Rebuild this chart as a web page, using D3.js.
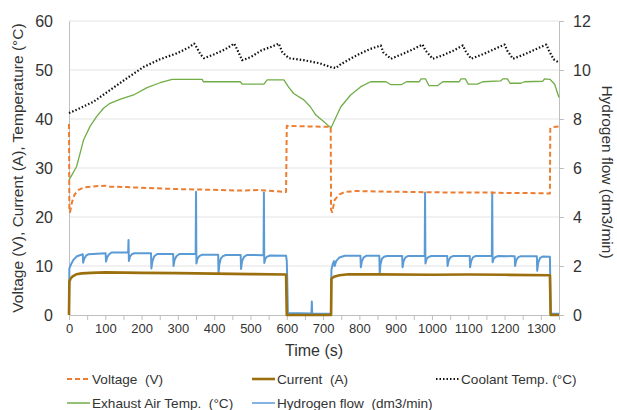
<!DOCTYPE html>
<html>
<head>
<meta charset="utf-8">
<script src="https://cdn.jsdelivr.net/npm/d3@7"></script>
<style>
body{margin:0;background:#fff;}
text{font-family:"Liberation Sans",Arial,sans-serif;fill:#333;}
</style>
</head>
<body>
<div id="chart"></div>
<script>

// tick labels
let timeTicks = [0,100,200,300,400,500,600,700,800,900,1000,1100,1200,1300];
let leftTicks = [0,10,20,30,40,50,60];
let rightTicks = [0,2,4,6,8,10,12];

// series, [time (s), value]
let voltage = [[0,39],[1,21.5],[3,21],[8,23],[15,24.5],[25,25.5],[40,26],[60,26.2],[100,26.4],[110,26.2],
  [160,26.1],[220,25.9],[300,25.7],[360,25.6],[420,25.5],[470,25.4],[520,25.5],[560,25.3],[598,25.1],
  [600,38.6],[650,38.5],[721,38.4],[722,21.5],[725,21],[732,23.5],[745,24.6],[760,25.1],[790,25.3],
  [850,25.2],[950,25.1],[1050,25.0],[1150,25.0],[1200,24.9],[1260,24.9],[1325,24.8],[1326,38.0],
  [1330,38.3],[1350,38.5]];

let current = [[0,0],[1,6.8],[4,7.4],[10,7.9],[20,8.3],[35,8.5],[60,8.6],[100,8.7],[200,8.6],[300,8.55],
  [400,8.45],[500,8.35],[598,8.25],[600,0],[722,0],[723,7.4],[730,7.8],[745,8.1],[770,8.3],[850,8.3],
  [1000,8.2],[1100,8.25],[1200,8.2],[1325,8.1],[1327,0],[1350,0]];

let coolant = [[0,41.2],[30,42.2],[67,43.5],[113,45.9],[159,48.3],[205,50.6],[251,52.2],[297,53.4],
  [330,54.6],[345,55.4],[352,54.6],[362,53.2],[372,52.4],[400,53.2],[430,54.2],[455,55.4],[462,54.4],
  [477,52.0],[500,52.6],[530,54.0],[560,54.8],[578,55.4],[588,53.6],[606,52.4],[647,52.0],[689,51.4],
  [721,50.6],[735,50.4],[749,51.2],[795,53.1],[830,54.3],[859,55.0],[866,53.6],[887,52.3],[920,53.3],
  [950,54.3],[974,55.2],[982,54.0],[1002,52.3],[1030,53.0],[1060,54.0],[1085,55.0],[1093,53.8],
  [1108,52.3],[1140,53.2],[1170,54.2],[1200,55.2],[1207,54.0],[1223,52.3],[1255,53.2],[1285,54.2],
  [1315,55.2],[1322,54.0],[1335,52.2],[1350,51.5]];

let exhaust = [[0,27.5],[5,28.2],[21,30.3],[40,35.7],[58,38.5],[76,40.5],[95,42.2],[113,43.2],[140,44.0],
  [178,44.9],[215,46.4],[251,47.4],[284,48.1],[367,48.1],[370,47.6],[472,47.6],[477,47.1],[537,47.1],
  [546,48.0],[592,48.0],[605,46.5],[619,45.2],[647,43.9],[665,42.5],[680,40.8],[700,39.6],[715,38.6],
  [722,38.2],[730,39.5],[749,42.5],[776,44.9],[804,46.6],[831,47.6],[873,47.6],[887,47.0],[915,47.0],
  [930,47.6],[965,47.6],[970,48.2],[982,48.2],[992,46.8],[1015,46.8],[1030,47.6],[1075,47.6],[1080,48.2],
  [1092,48.2],[1100,47.1],[1125,47.1],[1140,47.6],[1190,47.8],[1195,48.2],[1208,48.2],[1215,47.3],
  [1245,47.3],[1255,47.6],[1305,47.7],[1310,48.2],[1325,48.1],[1338,47.1],[1350,44.4]];

let hydrogen = [[0,0],[1,1.9],[5,2.05],[12,2.25],[22,2.4],[38,2.48],[39,2.13],[42,2.3],[47,2.42],[54,2.48],
  [101,2.52],[102,2.18],[105,2.35],[110,2.47],[117,2.55],
  [163,2.55],[164,3.06],[165,2.2],[168,2.38],[173,2.48],[180,2.52],
  [226,2.52],[227,1.9],[230,2.2],[235,2.4],[243,2.49],
  [287,2.49],[288,2.0],[291,2.25],[296,2.4],[304,2.49],
  [349,2.49],[350,5.03],[351,2.1],[354,2.3],[359,2.4],[367,2.46],
  [411,2.46],[412,1.67],[414,2.05],[418,2.3],[424,2.4],[432,2.45],
  [473,2.45],[474,1.88],[477,2.2],[482,2.37],[490,2.45],
  [536,2.44],[537,5.0],[538,2.12],[541,2.3],[546,2.38],[554,2.43],
  [598,2.42],[600,2.2],[601,1.6],[603,0.08],[668,0.06],[669,0.55],[670,0.06],[722,0.05],
  [723,1.85],[727,2.1],[730,2.2],[732,2.0],[736,2.2],[745,2.35],[760,2.42],
  [803,2.42],[804,1.95],[807,2.2],[812,2.35],[820,2.42],
  [855,2.42],[856,1.67],[858,2.05],[862,2.3],[868,2.38],[876,2.41],
  [918,2.41],[919,1.95],[922,2.2],[927,2.35],[935,2.41],
  [980,2.41],[981,5.0],[982,2.1],[985,2.28],[990,2.36],[998,2.41],
  [1042,2.41],[1043,2.0],[1046,2.22],[1051,2.36],[1059,2.41],
  [1104,2.41],[1105,1.95],[1108,2.2],[1113,2.35],[1121,2.41],
  [1165,2.41],[1166,5.0],[1167,2.15],[1170,2.3],[1175,2.37],[1183,2.41],
  [1228,2.4],[1229,2.0],[1232,2.22],[1237,2.35],[1245,2.4],
  [1289,2.4],[1290,1.81],[1293,2.15],[1298,2.33],[1306,2.39],
  [1325,2.38],[1327,0.05],[1350,0.05]];

let dim = {'width':617, 'height':410};
let plot = {'left':69, 'right':559, 'top':21, 'bottom':315};

let svg = d3.select('#chart').append('svg')
    .attr('width', dim.width)
    .attr('height', dim.height)
    .style('display', 'block');

let x = d3.scaleLinear().domain([0,1350]).range([plot.left, plot.right]);
let yL = d3.scaleLinear().domain([0,60]).range([plot.bottom, plot.top]);
let yR = d3.scaleLinear().domain([0,12]).range([plot.bottom, plot.top]);

// gridlines
svg.append('g')
    .selectAll('line')
    .data(leftTicks.slice(1))
    .join('line')
    .attr('x1', plot.left).attr('x2', plot.right)
    .attr('y1', d => yL(d)).attr('y2', d => yL(d))
    .attr('stroke', '#e3e3e3').attr('stroke-width', 1);

// x axis, ticks every 50 but labels every 100
let xAxis = d3.axisBottom(x)
    .tickValues(d3.range(0, 1351, 50))
    .tickSize(5)
    .tickPadding(4)
    .tickFormat(d => timeTicks.includes(d) ? d : '');
let gx = svg.append('g')
    .attr('transform', 'translate(0,' + plot.bottom + ')')
    .call(xAxis);
gx.selectAll('text').style('font-size', '13px').attr('fill', '#333');

let gl = svg.append('g')
    .attr('transform', 'translate(' + plot.left + ',0)')
    .call(d3.axisLeft(yL).tickValues(leftTicks).tickSize(0).tickPadding(16));
gl.selectAll('text').style('font-size', '16px').attr('fill', '#333');

let gr = svg.append('g')
    .attr('transform', 'translate(' + plot.right + ',0)')
    .call(d3.axisRight(yR).tickValues(rightTicks).tickSize(5).tickPadding(9));
gr.selectAll('text').style('font-size', '16px').attr('fill', '#333');

[gx, gl, gr].forEach(g => {
    g.select('.domain').attr('stroke', '#bfbfbf');
    g.selectAll('.tick line').attr('stroke', '#bfbfbf');
});

// lines
let lineL = d3.line().x(d => x(d[0])).y(d => yL(d[1]));
let lineR = d3.line().x(d => x(d[0])).y(d => yR(d[1]));

let series = [
    {name:'Exhaust Air Temp.  (°C)', data:exhaust, line:lineL, color:'#70ad47', width:1.3, dash:null},
    {name:'Coolant Temp. (°C)', data:coolant, line:lineL, color:'#111', width:2.2, dash:'1.5,2'},
    {name:'Hydrogen flow  (dm3/min)', data:hydrogen, line:lineR, color:'#5b9bd5', width:2, dash:null},
    {name:'Current  (A)', data:current, line:lineL, color:'#9c6f0e', width:2.6, dash:null},
    {name:'Voltage  (V)', data:voltage, line:lineL, color:'#ed7d31', width:2, dash:'5,3'}
];

svg.append('g')
    .selectAll('path')
    .data(series)
    .join('path')
    .attr('d', s => s.line(s.data))
    .attr('fill', 'none')
    .attr('stroke', s => s.color)
    .attr('stroke-width', s => s.width)
    .attr('stroke-dasharray', s => s.dash)
    .attr('stroke-linejoin', 'round');

// axis titles
svg.append('text')
    .attr('x', 314).attr('y', 356)
    .attr('text-anchor', 'middle')
    .style('font-size', '16px')
    .text('Time (s)');

svg.append('text')
    .attr('transform', 'translate(23,168) rotate(-90)')
    .attr('text-anchor', 'middle')
    .style('font-size', '15.5px')
    .text('Voltage (V), Current (A), Temperature (°C)');

svg.append('text')
    .attr('transform', 'translate(602,172) rotate(90)')
    .attr('text-anchor', 'middle')
    .style('font-size', '15.5px')
    .text('Hydrogen flow (dm3/min)');

// legend
let legendItems = [
    {s:series[4], x:67, y:379},
    {s:series[3], x:252, y:379},
    {s:series[1], x:436, y:379},
    {s:series[0], x:67, y:403},
    {s:series[2], x:252, y:403}
];

let lg = svg.append('g').selectAll('g')
    .data(legendItems)
    .join('g')
    .attr('transform', d => 'translate(' + d.x + ',' + d.y + ')');

lg.append('line')
    .attr('x1', 0).attr('x2', 23)
    .attr('stroke', d => d.s.color)
    .attr('stroke-width', d => d.s === series[0] || d.s === series[2] ? 1.5 : d.s.width)
    .attr('stroke-dasharray', d => d.s.dash);

lg.append('text')
    .attr('x', 25).attr('dy', '0.35em')
    .style('font-size', '13.6px')
    .style('white-space', 'pre')
    .text(d => d.s.name);

</script>
</body>
</html>
